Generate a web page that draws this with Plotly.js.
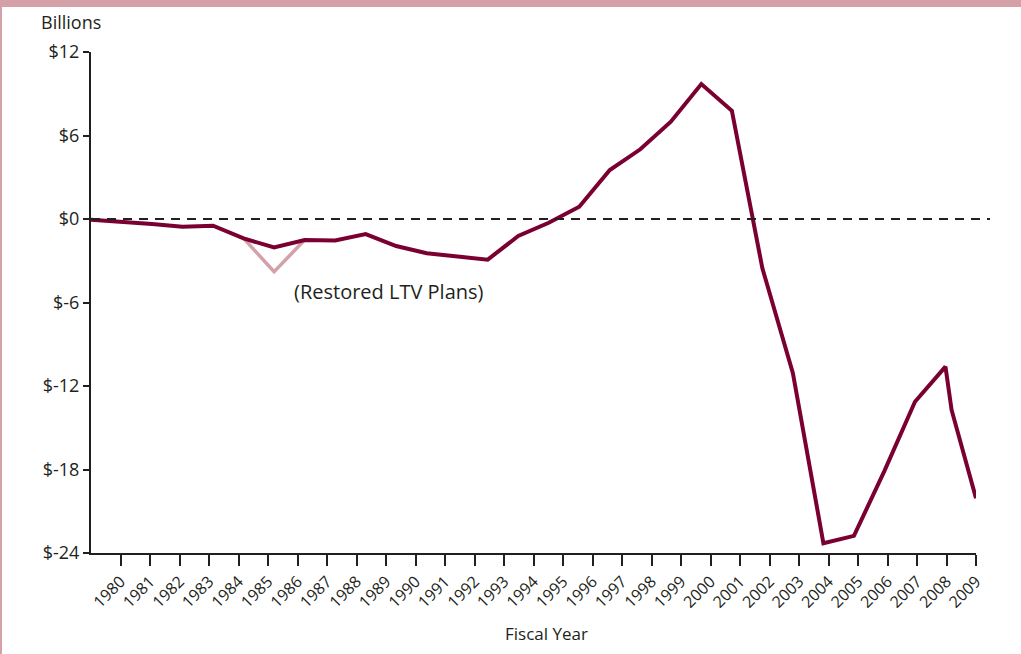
<!DOCTYPE html>
<html>
<head>
<meta charset="utf-8">
<script src="https://cdn.plot.ly/plotly-3.0.1.min.js"></script>
<style>
html,body{margin:0;padding:0;background:#fff;}
#chart{width:1021px;height:654px;}
</style>
</head>
<body>
<div id="chart"></div>
<script>
// ---- data (billions of dollars, fiscal years) ----
var years = [1980,1981,1982,1983,1984,1985,1986,1987,1988,1989,1990,1991,1992,1993,1994,1995,1996,1997,1998,1999,2000,2001,2002,2003,2004,2005,2006,2007,2008,2008.2,2009];
var netPosition = [-0.05,-0.18,-0.36,-0.55,-0.48,-1.39,-2.05,-1.51,-1.54,-1.08,-1.94,-2.46,-2.69,-2.92,-1.22,-0.27,0.88,3.52,5.01,6.99,9.70,7.78,-3.54,-11.08,-23.30,-22.77,-18.10,-13.13,-10.61,-13.72,-20.07];
var ltvYears = [1985,1986,1987];
var ltvValues = [-1.39,-3.79,-1.51];
var tickYears = [1980,1981,1982,1983,1984,1985,1986,1987,1988,1989,1990,1991,1992,1993,1994,1995,1996,1997,1998,1999,2000,2001,2002,2003,2004,2005,2006,2007,2008,2009];
var tickYearLabels = tickYears.map(String);
var yTickVals = [12,6,0,-6,-12,-18,-24];
var yTickLabels = ['$12','$6','$0','$-6','$-12','$-18','$-24'];
var ltvLabel = '(Restored LTV Plans)';
var ltvLabelPos = {x:1989.78, y:-5.24};

var ink = '#231f20';
var maroon = '#7a0032';
var pink = '#d4a1a9';
var font = '"Open Sans", "Noto Sans", sans-serif';

var W = 1021, H = 654;
var m = {l:91, r:45, t:52, b:101};
var pw = W - m.l - m.r, ph = H - m.t - m.b;

var traces = [
  {x: ltvYears, y: ltvValues, xaxis:'x2', yaxis:'y', type:'scatter', mode:'lines',
   line:{color:pink, width:3.5}, hoverinfo:'skip', showlegend:false},
  {x: years, y: netPosition, xaxis:'x2', yaxis:'y', type:'scatter', mode:'lines',
   line:{color:maroon, width:4}, showlegend:false},
  {x: [tickYears[0]], y: [0], xaxis:'x', yaxis:'y', type:'scatter', mode:'markers',
   marker:{opacity:0}, hoverinfo:'skip', showlegend:false}
];

var layout = {
  width: W, height: H,
  margin: m,
  paper_bgcolor:'#fff', plot_bgcolor:'#fff',
  font:{family:font, color:ink},
  showlegend:false,
  xaxis:{
    range:[1979, 2009], showgrid:false, zeroline:false,
    showline:true, linecolor:ink, linewidth:2,
    ticks:'outside', ticklen:11, tickwidth:2, tickcolor:ink,
    tickvals: tickYears, ticktext: tickYearLabels, tickangle:-45,
    tickfont:{family:font, size:16, color:ink}
  },
  xaxis2:{
    range:[1980, 2009], overlaying:'x', visible:false, showgrid:false, zeroline:false
  },
  yaxis:{
    range:[-24, 12], showgrid:false, zeroline:false,
    showline:true, linecolor:ink, linewidth:2,
    ticks:'outside', ticklen:6, tickwidth:2, tickcolor:ink,
    tickvals: yTickVals, ticktext: yTickLabels,
    tickfont:{family:font, size:18, color:ink}
  },
  shapes:[
    {type:'line', xref:'paper', yref:'y', x0:0, x1:(990-m.l)/pw, y0:0, y1:0,
     line:{color:ink, width:2, dash:'9px,7px'}},
    {type:'rect', xref:'paper', yref:'paper', x0:-m.l/pw, x1:(W-m.l)/pw,
     y0:1+(m.t-7)/ph, y1:1+m.t/ph, fillcolor:pink, line:{width:0}, layer:'below'},
    {type:'rect', xref:'paper', yref:'paper', x0:-m.l/pw, x1:(2-m.l)/pw,
     y0:-m.b/ph, y1:1+m.t/ph, fillcolor:pink, line:{width:0}, layer:'below'}
  ],
  annotations:[
    {text:'Billions', xref:'paper', yref:'paper', x:(39-m.l)/pw, y:1+(m.t-22)/ph,
     xanchor:'left', yanchor:'middle', showarrow:false, font:{family:font, size:18, color:ink}},
    {text:'Fiscal Year', xref:'paper', yref:'paper', x:(546-m.l)/pw, y:-(633-(m.t+ph))/ph,
     xanchor:'center', yanchor:'middle', showarrow:false, font:{family:font, size:17, color:ink}},
    {text:ltvLabel, xref:'x2', yref:'y', x:ltvLabelPos.x, y:ltvLabelPos.y,
     xanchor:'center', yanchor:'middle', showarrow:false, font:{family:font, size:20, color:ink}}
  ]
};

Plotly.newPlot('chart', traces, layout, {displayModeBar:false, staticPlot:true});
</script>
</body>
</html>
